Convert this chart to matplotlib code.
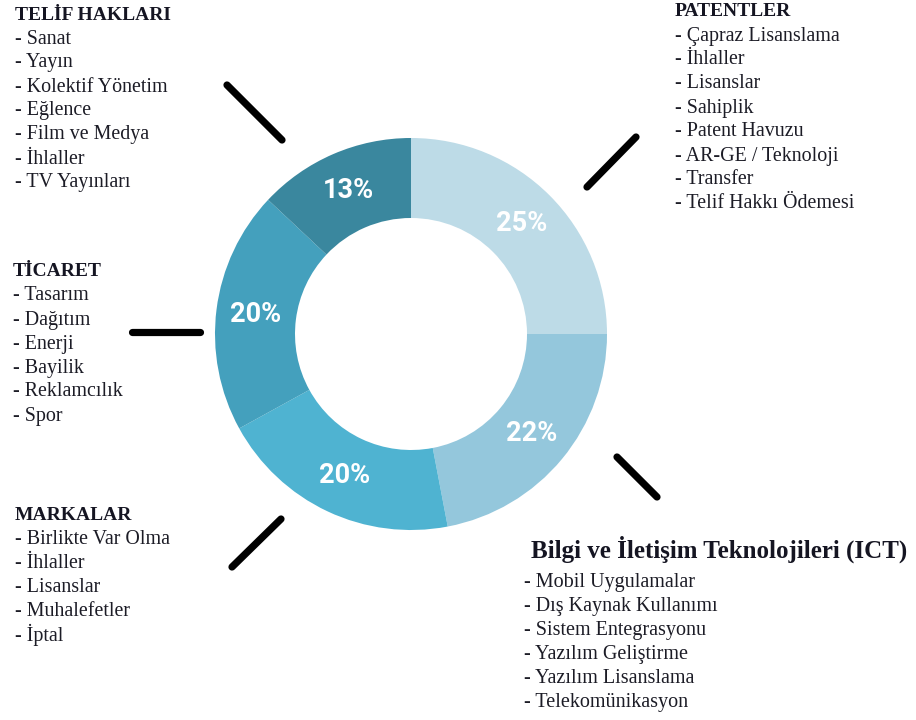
import matplotlib.pyplot as plt

# Donut values (clockwise from 12 o'clock)
shares = [25, 22, 20, 20, 13]
colors = ["#bddbe7", "#94c7dc", "#4fb3d1", "#44a0bd", "#3a879e"]

# Text groups: title and bullet items
groups = [
    ("TELİF HAKLARI", ["Sanat", "Yayın", "Kolektif Yönetim", "Eğlence",
                       "Film ve Medya", "İhlaller", "TV Yayınları"]),
    ("PATENTLER", ["Çapraz Lisanslama", "İhlaller", "Lisanslar", "Sahiplik",
                   "Patent Havuzu", "AR-GE / Teknoloji", "Transfer",
                   "Telif Hakkı Ödemesi"]),
    ("TİCARET", ["Tasarım", "Dağıtım", "Enerji", "Bayilik", "Reklamcılık", "Spor"]),
    ("MARKALAR", ["Birlikte Var Olma", "İhlaller", "Lisanslar", "Muhalefetler", "İptal"]),
]
group_pos = [(15, 15), (675, 12), (13, 272), (15, 515)]

ict_title = "Bilgi ve İletişim Teknolojileri (ICT)"
ict_items = ["Mobil Uygulamalar", "Dış Kaynak Kullanımı", "Sistem Entegrasyonu",
             "Yazılım Geliştirme", "Yazılım Lisanslama", "Telekomünikasyon"]

# leader strokes between the text blocks and the donut
strokes = [((227, 85), (282, 140)), ((587, 187), (636, 137)),
           ((132, 332), (200, 332)), ((617, 457), (657, 497)),
           ((232, 567), (281, 519))]


def main() -> None:
    fig = plt.figure(figsize=(9.16, 7.2), dpi=100)
    ax = fig.add_axes([0, 0, 1, 1])

    # y axis is flipped below, so counterclock=True draws clockwise on screen
    wedges, _, autotexts = ax.pie(
        shares, colors=colors, center=(411, 334), radius=196,
        startangle=-90, counterclock=True,
        wedgeprops=dict(width=80, edgecolor="none"),
        autopct=lambda p: f"{p:.0f}%", pctdistance=0.8, frame=True,
    )
    ax.set_xlim(0, 916)
    ax.set_ylim(720, 0)
    ax.set_aspect("equal")
    ax.axis("off")
    for t in autotexts:
        t.set_color("white")
        t.set_fontsize(19.5)
        t.set_fontweight("bold")
        t.set_family(["Liberation Sans Narrow", "Roboto", "DejaVu Sans"])

    for (a, b) in strokes:
        ax.plot([a[0], b[0]], [a[1], b[1]], color="black", lw=5.2,
                solid_capstyle="round")

    serif = ["Liberation Serif", "DejaVu Serif"]
    for (title, items), (x, y) in zip(groups, group_pos):
        ax.text(x, y, title, fontsize=14, fontweight="bold", family=serif,
                color="#151522", va="center", ha="left")
        for i, item in enumerate(items):
            ax.text(x, y + 24 * (i + 1), "- " + item, fontsize=14.4, family=serif,
                    color="#1c1c26", va="center", ha="left")

    ax.text(531, 549, ict_title, fontsize=18, fontweight="bold", family=serif,
            color="#151522", va="center", ha="left")
    for i, item in enumerate(ict_items):
        ax.text(524, 582 + 24.2 * i, "- " + item, fontsize=14.5, family=serif,
                color="#1c1c26", va="center", ha="left")

    fig.savefig("out.png", dpi=100)


if __name__ == "__main__":
    main()
